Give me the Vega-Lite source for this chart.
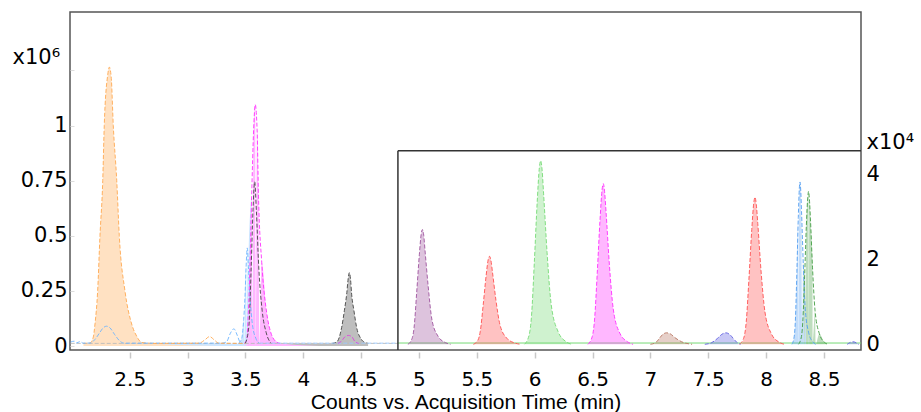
{
  "$schema": "https://vega.github.io/schema/vega-lite/v6.json",
  "width": 791,
  "height": 338,
  "autosize": {"type": "none"},
  "padding": {"left": 70, "top": 12, "right": 60, "bottom": 62},
  "background": "white",
  "config": {
    "view": {"stroke": "#555555", "strokeWidth": 1.5},
    "font": "DejaVu Sans"
  },
  "datasets": {
    "mainPeaks": [
      {"s": "orange", "t": 2.10, "v": 0.012}, {"s": "orange", "t": 2.157, "v": 0.014}, {"s": "orange", "t": 2.185, "v": 0.04}, {"s": "orange", "t": 2.20, "v": 0.10}, {"s": "orange", "t": 2.223, "v": 0.25}, {"s": "orange", "t": 2.243, "v": 0.50}, {"s": "orange", "t": 2.267, "v": 0.75}, {"s": "orange", "t": 2.28, "v": 1.00}, {"s": "orange", "t": 2.31, "v": 1.23}, {"s": "orange", "t": 2.324, "v": 1.265}, {"s": "orange", "t": 2.34, "v": 1.22}, {"s": "orange", "t": 2.358, "v": 1.00}, {"s": "orange", "t": 2.388, "v": 0.75}, {"s": "orange", "t": 2.41, "v": 0.50}, {"s": "orange", "t": 2.459, "v": 0.25}, {"s": "orange", "t": 2.517, "v": 0.10}, {"s": "orange", "t": 2.56, "v": 0.045}, {"s": "orange", "t": 2.604, "v": 0.016}, {"s": "orange", "t": 2.70, "v": 0.012},
      {"s": "blue", "t": 3.44, "v": 0.012}, {"s": "blue", "t": 3.468, "v": 0.035}, {"s": "blue", "t": 3.485, "v": 0.12}, {"s": "blue", "t": 3.496, "v": 0.22}, {"s": "blue", "t": 3.506, "v": 0.36}, {"s": "blue", "t": 3.516, "v": 0.445}, {"s": "blue", "t": 3.526, "v": 0.36}, {"s": "blue", "t": 3.54, "v": 0.22}, {"s": "blue", "t": 3.56, "v": 0.10}, {"s": "blue", "t": 3.59, "v": 0.035}, {"s": "blue", "t": 3.62, "v": 0.012},
      {"s": "pink", "t": 3.49, "v": 0.012}, {"s": "pink", "t": 3.511, "v": 0.03}, {"s": "pink", "t": 3.525, "v": 0.15}, {"s": "pink", "t": 3.54, "v": 0.38}, {"s": "pink", "t": 3.554, "v": 0.68}, {"s": "pink", "t": 3.571, "v": 0.98}, {"s": "pink", "t": 3.585, "v": 1.095}, {"s": "pink", "t": 3.601, "v": 0.98}, {"s": "pink", "t": 3.613, "v": 0.68}, {"s": "pink", "t": 3.641, "v": 0.38}, {"s": "pink", "t": 3.684, "v": 0.15}, {"s": "pink", "t": 3.72, "v": 0.06}, {"s": "pink", "t": 3.77, "v": 0.018}, {"s": "pink", "t": 3.80, "v": 0.012},
      {"s": "gray", "t": 4.25, "v": 0.012}, {"s": "gray", "t": 4.289, "v": 0.018}, {"s": "gray", "t": 4.332, "v": 0.085}, {"s": "gray", "t": 4.355, "v": 0.16}, {"s": "gray", "t": 4.375, "v": 0.235}, {"s": "gray", "t": 4.388, "v": 0.305}, {"s": "gray", "t": 4.398, "v": 0.333}, {"s": "gray", "t": 4.408, "v": 0.305}, {"s": "gray", "t": 4.418, "v": 0.235}, {"s": "gray", "t": 4.438, "v": 0.16}, {"s": "gray", "t": 4.461, "v": 0.085}, {"s": "gray", "t": 4.50, "v": 0.032}, {"s": "gray", "t": 4.533, "v": 0.016}, {"s": "gray", "t": 4.56, "v": 0.012}
    ],
    "mainTraces": [
      {"s": "base", "t": 1.99, "v": 0.012}, {"s": "base", "t": 4.818, "v": 0.012},
      {"s": "bluet", "t": 1.99, "v": 0.018}, {"s": "bluet", "t": 2.02, "v": 0.022}, {"s": "bluet", "t": 2.04, "v": 0.014}, {"s": "bluet", "t": 2.07, "v": 0.02}, {"s": "bluet", "t": 2.10, "v": 0.013}, {"s": "bluet", "t": 2.16, "v": 0.014}, {"s": "bluet", "t": 2.20, "v": 0.03}, {"s": "bluet", "t": 2.24, "v": 0.06}, {"s": "bluet", "t": 2.27, "v": 0.082}, {"s": "bluet", "t": 2.30, "v": 0.09}, {"s": "bluet", "t": 2.33, "v": 0.082}, {"s": "bluet", "t": 2.37, "v": 0.052}, {"s": "bluet", "t": 2.416, "v": 0.022}, {"s": "bluet", "t": 2.45, "v": 0.013}, {"s": "bluet", "t": 2.60, "v": 0.013}, {"s": "bluet", "t": 3.30, "v": 0.013}, {"s": "bluet", "t": 3.338, "v": 0.02}, {"s": "bluet", "t": 3.37, "v": 0.058}, {"s": "bluet", "t": 3.40, "v": 0.078}, {"s": "bluet", "t": 3.43, "v": 0.048}, {"s": "bluet", "t": 3.453, "v": 0.018}, {"s": "bluet", "t": 3.47, "v": 0.013},
      {"s": "bluet2", "t": 3.62, "v": 0.013}, {"s": "bluet2", "t": 4.818, "v": 0.013},
      {"s": "oranget", "t": 2.70, "v": 0.012}, {"s": "oranget", "t": 3.10, "v": 0.013}, {"s": "oranget", "t": 3.15, "v": 0.028}, {"s": "oranget", "t": 3.19, "v": 0.043}, {"s": "oranget", "t": 3.23, "v": 0.028}, {"s": "oranget", "t": 3.27, "v": 0.013}, {"s": "oranget", "t": 3.50, "v": 0.012},
      {"s": "grayt", "t": 3.50, "v": 0.013}, {"s": "grayt", "t": 3.53, "v": 0.09}, {"s": "grayt", "t": 3.55, "v": 0.36}, {"s": "grayt", "t": 3.565, "v": 0.61}, {"s": "grayt", "t": 3.58, "v": 0.745}, {"s": "grayt", "t": 3.595, "v": 0.61}, {"s": "grayt", "t": 3.615, "v": 0.36}, {"s": "grayt", "t": 3.645, "v": 0.16}, {"s": "grayt", "t": 3.68, "v": 0.06}, {"s": "grayt", "t": 3.72, "v": 0.013},
      {"s": "pinkt", "t": 4.30, "v": 0.012}, {"s": "pinkt", "t": 4.33, "v": 0.022}, {"s": "pinkt", "t": 4.36, "v": 0.042}, {"s": "pinkt", "t": 4.39, "v": 0.048}, {"s": "pinkt", "t": 4.42, "v": 0.042}, {"s": "pinkt", "t": 4.447, "v": 0.02}, {"s": "pinkt", "t": 4.48, "v": 0.012}
    ],
    "insetPeaks": [
      {"s": "purple", "t": 4.904, "w": 0}, {"s": "purple", "t": 4.94, "w": 0.135}, {"s": "purple", "t": 4.958, "w": 0.405}, {"s": "purple", "t": 4.98, "w": 1.215}, {"s": "purple", "t": 5.003, "w": 2.106}, {"s": "purple", "t": 5.019, "w": 2.592}, {"s": "purple", "t": 5.03, "w": 2.7}, {"s": "purple", "t": 5.041, "w": 2.565}, {"s": "purple", "t": 5.052, "w": 2.214}, {"s": "purple", "t": 5.08, "w": 1.35}, {"s": "purple", "t": 5.111, "w": 0.594}, {"s": "purple", "t": 5.165, "w": 0.189}, {"s": "purple", "t": 5.228, "w": 0.04}, {"s": "purple", "t": 5.273, "w": 0},
      {"s": "red", "t": 5.47, "w": 0}, {"s": "red", "t": 5.51, "w": 0.10}, {"s": "red", "t": 5.53, "w": 0.31}, {"s": "red", "t": 5.555, "w": 0.93}, {"s": "red", "t": 5.58, "w": 1.61}, {"s": "red", "t": 5.598, "w": 1.99}, {"s": "red", "t": 5.61, "w": 2.07}, {"s": "red", "t": 5.622, "w": 1.97}, {"s": "red", "t": 5.635, "w": 1.70}, {"s": "red", "t": 5.665, "w": 1.04}, {"s": "red", "t": 5.70, "w": 0.46}, {"s": "red", "t": 5.76, "w": 0.14}, {"s": "red", "t": 5.83, "w": 0.03}, {"s": "red", "t": 5.88, "w": 0},
      {"s": "green", "t": 5.912, "w": 0}, {"s": "green", "t": 5.952, "w": 0.22}, {"s": "green", "t": 5.972, "w": 0.65}, {"s": "green", "t": 5.997, "w": 1.94}, {"s": "green", "t": 6.022, "w": 3.37}, {"s": "green", "t": 6.04, "w": 4.15}, {"s": "green", "t": 6.052, "w": 4.32}, {"s": "green", "t": 6.064, "w": 4.10}, {"s": "green", "t": 6.077, "w": 3.54}, {"s": "green", "t": 6.107, "w": 2.16}, {"s": "green", "t": 6.142, "w": 0.95}, {"s": "green", "t": 6.202, "w": 0.30}, {"s": "green", "t": 6.272, "w": 0.06}, {"s": "green", "t": 6.322, "w": 0},
      {"s": "magenta", "t": 6.46, "w": 0}, {"s": "magenta", "t": 6.498, "w": 0.19}, {"s": "magenta", "t": 6.517, "w": 0.57}, {"s": "magenta", "t": 6.541, "w": 1.70}, {"s": "magenta", "t": 6.565, "w": 2.95}, {"s": "magenta", "t": 6.582, "w": 3.63}, {"s": "magenta", "t": 6.593, "w": 3.78}, {"s": "magenta", "t": 6.604, "w": 3.59}, {"s": "magenta", "t": 6.617, "w": 3.10}, {"s": "magenta", "t": 6.645, "w": 1.89}, {"s": "magenta", "t": 6.679, "w": 0.83}, {"s": "magenta", "t": 6.736, "w": 0.26}, {"s": "magenta", "t": 6.802, "w": 0.06}, {"s": "magenta", "t": 6.85, "w": 0},
      {"s": "brown", "t": 7.00, "w": 0}, {"s": "brown", "t": 7.05, "w": 0.05}, {"s": "brown", "t": 7.08, "w": 0.15}, {"s": "brown", "t": 7.11, "w": 0.24}, {"s": "brown", "t": 7.14, "w": 0.27}, {"s": "brown", "t": 7.17, "w": 0.25}, {"s": "brown", "t": 7.21, "w": 0.16}, {"s": "brown", "t": 7.27, "w": 0.06}, {"s": "brown", "t": 7.36, "w": 0},
      {"s": "indigo", "t": 7.47, "w": 0}, {"s": "indigo", "t": 7.53, "w": 0.04}, {"s": "indigo", "t": 7.58, "w": 0.14}, {"s": "indigo", "t": 7.62, "w": 0.24}, {"s": "indigo", "t": 7.654, "w": 0.27}, {"s": "indigo", "t": 7.69, "w": 0.22}, {"s": "indigo", "t": 7.73, "w": 0.09}, {"s": "indigo", "t": 7.78, "w": 0},
      {"s": "red2", "t": 7.771, "w": 0}, {"s": "red2", "t": 7.809, "w": 0.17}, {"s": "red2", "t": 7.828, "w": 0.52}, {"s": "red2", "t": 7.852, "w": 1.56}, {"s": "red2", "t": 7.876, "w": 2.70}, {"s": "red2", "t": 7.893, "w": 3.32}, {"s": "red2", "t": 7.904, "w": 3.46}, {"s": "red2", "t": 7.915, "w": 3.29}, {"s": "red2", "t": 7.928, "w": 2.84}, {"s": "red2", "t": 7.956, "w": 1.73}, {"s": "red2", "t": 7.99, "w": 0.76}, {"s": "red2", "t": 8.047, "w": 0.24}, {"s": "red2", "t": 8.113, "w": 0.05}, {"s": "red2", "t": 8.16, "w": 0},
      {"s": "ltblue", "t": 8.223, "w": 0}, {"s": "ltblue", "t": 8.243, "w": 0.19}, {"s": "ltblue", "t": 8.253, "w": 0.57}, {"s": "ltblue", "t": 8.266, "w": 1.72}, {"s": "ltblue", "t": 8.278, "w": 2.98}, {"s": "ltblue", "t": 8.287, "w": 3.67}, {"s": "ltblue", "t": 8.293, "w": 3.82}, {"s": "ltblue", "t": 8.299, "w": 3.63}, {"s": "ltblue", "t": 8.306, "w": 3.13}, {"s": "ltblue", "t": 8.321, "w": 1.91}, {"s": "ltblue", "t": 8.338, "w": 0.84}, {"s": "ltblue", "t": 8.368, "w": 0.27}, {"s": "ltblue", "t": 8.403, "w": 0.06}, {"s": "ltblue", "t": 8.428, "w": 0},
      {"s": "dkgreen", "t": 8.28, "w": 0}, {"s": "dkgreen", "t": 8.305, "w": 0.18}, {"s": "dkgreen", "t": 8.317, "w": 0.54}, {"s": "dkgreen", "t": 8.333, "w": 1.62}, {"s": "dkgreen", "t": 8.348, "w": 2.81}, {"s": "dkgreen", "t": 8.36, "w": 3.46}, {"s": "dkgreen", "t": 8.367, "w": 3.6}, {"s": "dkgreen", "t": 8.374, "w": 3.42}, {"s": "dkgreen", "t": 8.383, "w": 2.95}, {"s": "dkgreen", "t": 8.401, "w": 1.8}, {"s": "dkgreen", "t": 8.423, "w": 0.79}, {"s": "dkgreen", "t": 8.46, "w": 0.25}, {"s": "dkgreen", "t": 8.503, "w": 0.05}, {"s": "dkgreen", "t": 8.534, "w": 0},
      {"s": "indigo2", "t": 8.70, "w": 0}, {"s": "indigo2", "t": 8.75, "w": 0.06}, {"s": "indigo2", "t": 8.80, "w": 0}
    ],
    "insetTraces": [
      {"s": "greenbase", "t": 4.818, "w": 0.03}, {"s": "greenbase", "t": 8.82, "w": 0.03}
    ],
    "insetFrame": [
      {"t": 4.818, "t2": 4.818, "w": -0.134, "w2": 4.555},
      {"t": 4.818, "t2": 8.82, "w": 4.555, "w2": 4.555}
    ]
  },
  "encoding": {
    "x": {
      "field": "t",
      "type": "quantitative",
      "scale": {"domain": [1.984, 8.82], "nice": false, "zero": false},
      "axis": {
        "values": [2.5, 3, 3.5, 4, 4.5, 5, 5.5, 6, 6.5, 7, 7.5, 8, 8.5],
        "format": "~g",
        "grid": false,
        "domain": false,
        "offset": 2,
        "ticks": true,
        "tickColor": "#c8c8c8",
        "tickSize": 6,
        "tickWidth": 1.5,
        "labelPadding": 11,
        "labelFont": "DejaVu Sans",
        "labelFontSize": 20,
        "labelColor": "#000000",
        "title": "Counts vs. Acquisition Time (min)",
        "titleFont": "Liberation Sans",
        "titleFontSize": 21,
        "titleFontWeight": "normal",
        "titleColor": "#000000",
        "titleBaseline": "alphabetic",
        "titleY": 56
      }
    }
  },
  "layer": [
    {
      "encoding": {
        "y": {
          "field": "v",
          "type": "quantitative",
          "scale": {"domain": [-0.018, 1.515], "nice": false, "zero": false},
          "axis": {
            "orient": "left",
            "values": [0, 0.25, 0.5, 0.75, 1, 1.25],
            "format": "~g",
            "labelExpr": "datum.value > 1.1 ? '' : datum.label",
            "grid": false,
            "domain": false,
            "tickColor": "#dddddd",
            "tickSize": -4,
            "labelPadding": 7,
            "labelFont": "DejaVu Sans",
            "labelFontSize": 21,
            "labelColor": "#000000",
            "title": "x10⁶",
            "titleFont": "DejaVu Sans",
            "titleFontSize": 21,
            "titleFontWeight": "normal",
            "titleColor": "#000000",
            "titleAngle": 0,
            "titleAlign": "left",
            "titleBaseline": "alphabetic",
            "titleX": -58,
            "titleY": 51
          }
        },
        "color": {
          "field": "s",
          "type": "nominal",
          "legend": null,
          "scale": {
            "domain": ["orange", "pink", "blue", "gray", "purple", "red", "green", "magenta", "brown", "indigo", "red2", "ltblue", "dkgreen", "indigo2", "base", "bluet", "bluet2", "oranget", "grayt", "pinkt", "greenbase"],
            "range": ["#FFA951", "#FF30FF", "#6DB5FF", "#454545", "#9E549E", "#FF5151", "#76DA76", "#FF30FF", "#B87662", "#6262E2", "#FF5151", "#549EF1", "#459E45", "#6262E2", "#BBBBBB", "#6DB5FF", "#9CCBFF", "#FFA951", "#454545", "#E040E0", "#76DA76"]
          }
        }
      },
      "layer": [
        {"data": {"name": "mainPeaks"}, "mark": {"type": "area", "interpolate": "monotone", "fillOpacity": 0.35}},
        {"data": {"name": "mainPeaks"}, "mark": {"type": "line", "interpolate": "monotone", "strokeWidth": 1, "strokeDash": [4, 2], "opacity": 0.9}},
        {"data": {"name": "mainTraces"}, "mark": {"type": "line", "interpolate": "monotone", "strokeWidth": 1, "strokeDash": [4, 2], "opacity": 0.9}}
      ]
    },
    {
      "encoding": {
        "y": {
          "field": "w",
          "type": "quantitative",
          "scale": {"domain": [-0.134, 7.82], "nice": false, "zero": false},
          "axis": {
            "orient": "right",
            "values": [0, 2, 4],
            "format": "~g",
            "grid": false,
            "domain": false,
            "ticks": false,
            "labelPadding": 5,
            "labelFont": "DejaVu Sans",
            "labelFontSize": 21,
            "labelColor": "#000000",
            "title": "x10⁴",
            "titleFont": "DejaVu Sans",
            "titleFontSize": 21,
            "titleFontWeight": "normal",
            "titleColor": "#000000",
            "titleAngle": 0,
            "titleAlign": "left",
            "titleBaseline": "alphabetic",
            "titleX": 5,
            "titleY": 136
          }
        }
      },
      "layer": [
        {"data": {"name": "insetTraces"}, "mark": {"type": "line", "strokeWidth": 1}, "encoding": {"color": {"field": "s", "type": "nominal", "legend": null}}},
        {"data": {"name": "insetPeaks"}, "mark": {"type": "area", "interpolate": "monotone", "fillOpacity": 0.35}, "encoding": {"color": {"field": "s", "type": "nominal", "legend": null}}},
        {"data": {"name": "insetPeaks"}, "mark": {"type": "line", "interpolate": "monotone", "strokeWidth": 1, "strokeDash": [4, 2], "opacity": 0.9}, "encoding": {"color": {"field": "s", "type": "nominal", "legend": null}}},
        {"data": {"name": "insetFrame"}, "mark": {"type": "rule", "color": "#333333", "strokeWidth": 1.5}, "encoding": {"x2": {"field": "t2"}, "y2": {"field": "w2"}}}
      ]
    }
  ],
  "resolve": {"scale": {"y": "independent"}}
}
